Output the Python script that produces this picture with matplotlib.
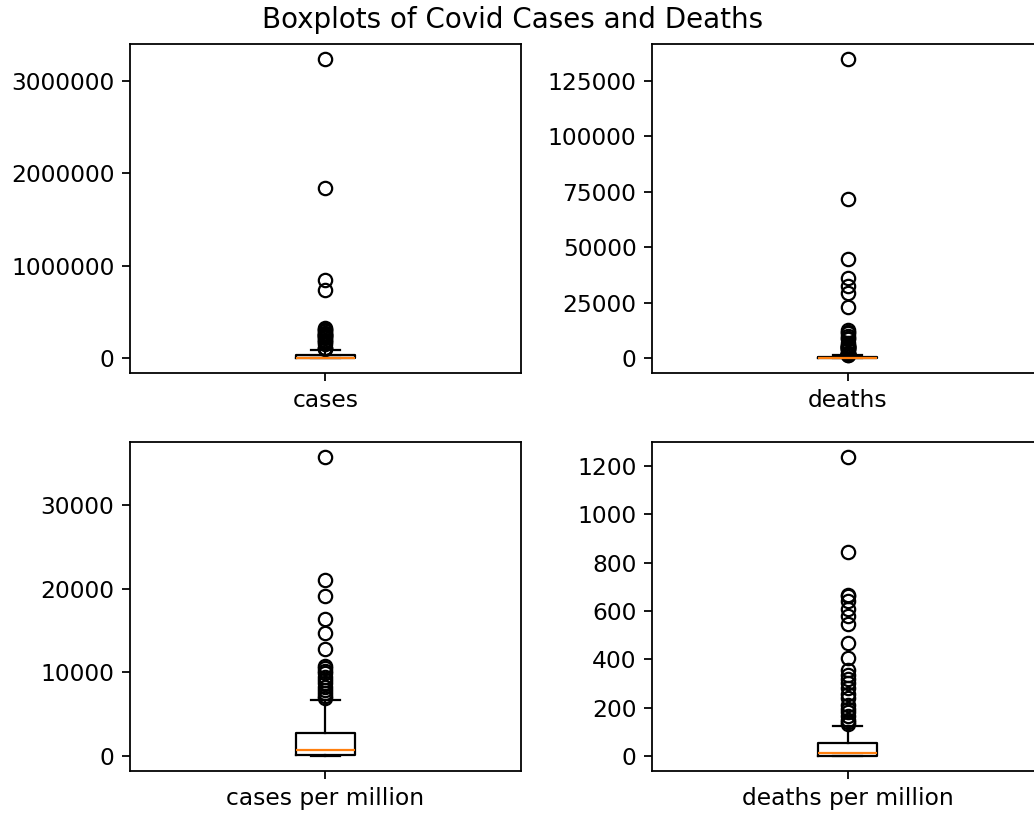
import matplotlib
matplotlib.use("Agg")
import matplotlib.pyplot as plt

# box summaries: [lower whisker, q1, median, q3, upper whisker]
cases_box = [0, 700, 5000, 38000, 84000]
deaths_box = [0, 20, 100, 600, 1450]
cases_pm_box = [0, 100, 720, 2750, 6700]
deaths_pm_box = [0, 1, 11, 55, 124]

# outliers
cases_fliers = [3240000, 1840000, 850000, 733000, 326000, 315000, 300000, 289000,
                276000, 257000, 254000, 248000, 243000, 232000, 212000, 199000,
                183000, 170000, 150000, 107000, 104000, 100000]
deaths_fliers = [135000, 72000, 44800, 36000, 32600, 29400, 23000, 12800,
                 11900, 11300, 9800, 9100, 8800, 7000, 6100, 5500, 5400, 5200, 5200,
                 5100, 4600, 4000, 3900, 3600, 2300, 2200, 2000, 1950, 1900, 1800,
                 1750, 1650, 1550, 1500]
cases_pm_fliers = [35800, 21100, 19100, 16400, 14700, 12800, 10800, 10500, 10200,
                   9900, 9500, 9100, 8700, 8300, 7900, 7500, 7200, 7000]
deaths_pm_fliers = [1237, 845, 667, 660, 640, 610, 578, 548, 467, 405, 357, 337,
                    320, 300, 282, 256, 240, 213, 195, 180, 165, 151, 140, 132]

labels = ["cases", "deaths", "cases per million", "deaths per million"]


def make_stats(box, fliers, label):
    lo, q1, med, q3, hi = box
    return {"whislo": lo, "q1": q1, "med": med, "q3": q3, "whishi": hi,
            "fliers": fliers, "label": label}


panels = [
    make_stats(cases_box, cases_fliers, labels[0]),
    make_stats(deaths_box, deaths_fliers, labels[1]),
    make_stats(cases_pm_box, cases_pm_fliers, labels[2]),
    make_stats(deaths_pm_box, deaths_pm_fliers, labels[3]),
]

plt.rcParams["font.size"] = 10.5

fig = plt.figure(figsize=(1034 / 160, 813 / 160), dpi=160)

# axes rectangles in figure fraction (right column runs past the edge, as in the source)
rects = [
    (0.1257, 0.5412, 0.3781, 0.4047),
    (0.6306, 0.5412, 0.3781, 0.4047),
    (0.1257, 0.0517, 0.3781, 0.4047),
    (0.6306, 0.0517, 0.3781, 0.4047),
]

for rect, stats in zip(rects, panels):
    ax = fig.add_axes(rect)
    ax.bxp([stats], widths=0.15)
    ax.ticklabel_format(axis="y", style="plain")

fig.suptitle("Boxplots of Covid Cases and Deaths", x=513 / 1034, y=0.993, va="top",
             fontsize=12.5)

fig.savefig("out.png", dpi=160)
